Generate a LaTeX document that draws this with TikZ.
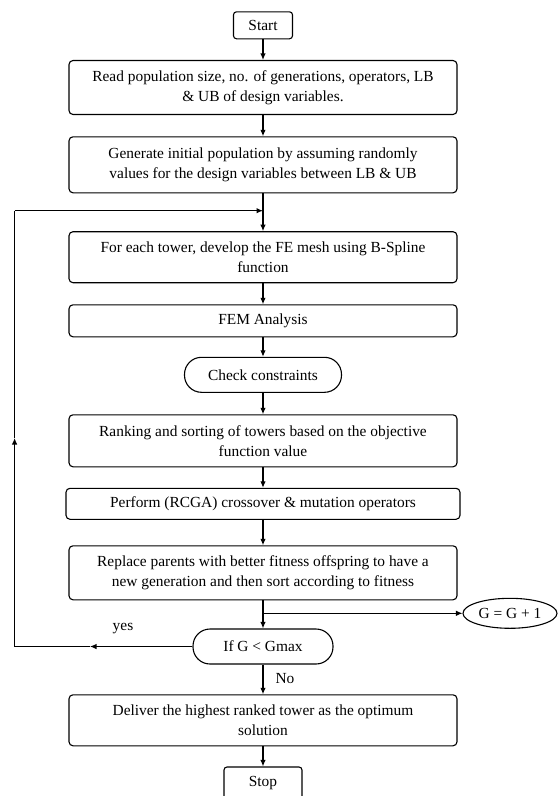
\documentclass[tikz,border=0pt]{standalone}
\usepackage{fontspec}
\setmainfont{Liberation Serif}
\usetikzlibrary{arrows.meta,shapes.geometric}
\begin{document}
\begin{tikzpicture}[x=1pt,y=-1pt,
  line width=1.1pt,
  >={Latex[length=6.5pt,width=5.5pt]},
  font=\fontsize{15.4}{20}\selectfont,
  procbox/.style={draw,rounded corners=4pt,minimum width=388pt,inner sep=0pt,align=center},
  termbox/.style={draw,rounded corners=3pt,inner sep=0pt,minimum height=27pt},
  stadium/.style={draw,rounded corners=17pt,inner sep=0pt,minimum height=35pt},
  oval/.style={draw,ellipse,inner sep=0pt,minimum width=94pt,minimum height=30pt},
  lbl/.style={inner sep=0pt}
]
\useasboundingbox (0,0) rectangle (559,796);

\node[termbox,minimum width=59pt] (start) at (263,25.3) {Start};
\node[procbox,minimum height=54pt] (read) at (263,87.5) {Read population size, no. of generations, operators, LB\\ \& UB of design variables.};
\node[procbox,minimum height=56pt] (gen) at (263,164.8) {Generate initial population by assuming randomly\\ values for the design variables between LB \& UB};
\node[procbox,minimum height=51pt] (fe) at (263,257.2) {For each tower, develop the FE mesh using B-Spline\\ function};
\node[procbox,minimum height=32pt] (fem) at (263,320.8) {FEM Analysis};
\node[stadium,minimum width=157pt] (chk) at (263,374.8) {Check constraints};
\node[procbox,minimum height=52pt] (rank) at (263,440.8) {Ranking and sorting of towers based on the objective\\ function value};
\node[procbox,minimum width=394pt,minimum height=31pt] (perf) at (263,503.8) {Perform (RCGA) crossover \& mutation operators};
\node[procbox,minimum height=54pt] (rep) at (263,572.8) {Replace parents with better fitness offspring to have a\\ new generation and then sort according to fitness};
\node[oval] (gg) at (510,613.3) {G = G + 1};
\node[stadium,minimum width=140pt] (ifg) at (263,646.5) {If G {<} Gmax};
\node[procbox,minimum height=51pt] (del) at (263,720.3) {Deliver the highest ranked tower as the optimum\\ solution};
\node[termbox,minimum width=78pt,minimum height=32pt] (stop) at (263,783) {Stop};

\node[lbl] (yes) at (123,629) {yes};
\node[lbl] (no) at (285,679) {No};

\coordinate (jn) at (263,210.7);
\coordinate (gj) at (263,613.3);
\coordinate (ya) at (90,646.5);
\coordinate (lb) at (14.6,646.5);
\coordinate (ua) at (14.6,438);
\coordinate (lt) at (14.6,210.7);

\draw[->] (start) -- (read);
\draw[->] (read) -- (gen);
\draw[->] (gen) -- (fe);
\draw[->] (fe) -- (fem);
\draw[->] (fem) -- (chk);
\draw[->] (chk) -- (rank);
\draw[->] (rank) -- (perf);
\draw[->] (perf) -- (rep);
\draw[->] (rep) -- (ifg);
\draw[->] (gj) -- (gg);
\draw[->] (ifg) -- (del);
\draw[->] (del) -- (stop);

\draw[->] (ifg.west) -- (ya);
\draw (ya) -- (lb);
\draw[->] (lb) -- (ua);
\draw (ua) -- (lt);
\draw[->] (lt) -- (jn);
\end{tikzpicture}
\end{document}
